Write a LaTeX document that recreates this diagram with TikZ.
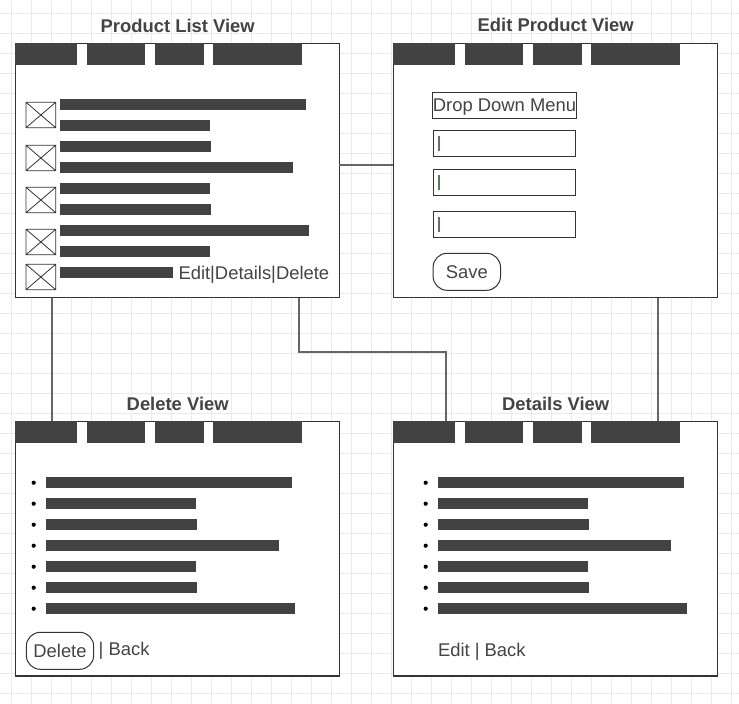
\documentclass[tikz,border=0pt]{standalone}
\usepackage{fontspec}
\setmainfont{Liberation Sans}
\definecolor{ink}{HTML}{444444}
\definecolor{barc}{HTML}{424242}
\definecolor{frame}{HTML}{333333}
\definecolor{connc}{HTML}{666666}
\definecolor{gridc}{HTML}{EBEBEB}
\definecolor{cursorc}{HTML}{5B7A5B}
\newcommand{\uifont}{\fontsize{18.4}{22}\selectfont}
\begin{document}
\begin{tikzpicture}[x=1pt,y=-1pt,
  window/.style={draw=frame, line width=1.2pt, fill=white, minimum width=324pt, minimum height=254.5pt, inner sep=0pt, outer sep=0pt},
  wtitle/.style={font=\uifont\bfseries, text=ink, anchor=base, inner sep=0pt},
  lbl/.style={font=\uifont, text=ink, inner sep=0pt},
  tabc/.style={fill=barc},
  barfill/.style={fill=barc},
  field/.style={draw=frame, line width=1pt, fill=white, minimum width=142.4pt, minimum height=26pt, inner sep=0pt, outer sep=0pt, font=\uifont, text=ink, text height=13pt, text depth=0pt},
  btn/.style={draw=frame, line width=1pt, rounded corners=14pt, minimum width=67.4pt, minimum height=37pt, inner sep=0pt, outer sep=0pt, font=\uifont, text=ink, text height=13pt, text depth=0pt},
  link/.style={draw=connc, line width=2pt},
  imgbox/.style={draw=frame, line width=0.8pt},
  cur/.style={draw=cursorc, line width=2pt}
]
\useasboundingbox[fill=white] (0,0) rectangle (739,704);
% grid
\foreach \i in {0,...,36} \draw[gridc, line width=1pt] ({11.7+20*\i},0) -- ({11.7+20*\i},704);
\foreach \i in {0,...,34} \draw[gridc, line width=1pt] (0,{13.3+20*\i}) -- (739,{13.3+20*\i});

% windows
\node[window] (plist) at (177.3,170.5) {};
\node[window] (edit) at (555.3,170.5) {};
\node[window] (delview) at (177.3,548.7) {};
\node[window] (details) at (555.3,548.7) {};

% titles
\node[wtitle] (plistT) at (177.7,32.3) {Product List View};
\node[wtitle] (editT) at (555.7,31) {Edit Product View};
\node[wtitle] (delT) at (177.7,410) {Delete View};
\node[wtitle] (detT) at (555.7,410.5) {Details View};

% tab bars
\foreach \w in {plist,edit,delview,details}
  \foreach \a/\b in {0/61.7,71.7/129.7,139.7/188.7,197.7/286.7}
    \fill[tabc] ([shift={(\a,0)}]\w.north west) rectangle ([shift={(\b,21.4)}]\w.north west);

% connectors
\coordinate (yE) at (0,165);
\draw[link] (plist.east |- yE) -- (edit.west |- yE);
\draw[link] ([xshift=36.4pt]plist.south west) -- ([xshift=36.4pt]delview.north west);
\draw[link] ([xshift=-40.3pt]plist.south east) -- ++(0,54.3) -| ([xshift=52.7pt]details.north west);
\draw[link] ([xshift=-59.6pt]edit.south east) -- ([xshift=-59.6pt]details.north east);

% product list content
\foreach \t in {102.3,145.3,187.3,229.3,264.3}
  \draw[imgbox] (26,\t) rectangle (55.7,\t+25.4) (26,\t) -- (55.7,\t+25.4) (55.7,\t) -- (26,\t+25.4);
\foreach \e/\t in {306/99,210/120,211/141,292.7/162,210/183,211/204,309/225,210/246,173/267}
  \fill[barfill] (60,\t) rectangle (\e,\t+10.7);
\node[lbl, anchor=base west] (pactions) at (178.3,279.3) {Edit|Details|Delete};

% edit content
\node[field] (ddm) at (504.5,105.3) {Drop Down Menu};
\node[field] (f1) at (504.5,143.3) {};
\node[field] (f2) at (504.5,182.3) {};
\node[field] (f3) at (504.5,224.3) {};
\foreach \f in {f1,f2,f3}
  \draw[cur] ([xshift=6pt]\f.west) ++(0,-7.5) -- ++(0,15);
\node[btn] (save) at (466.8,271.8) {Save};

% delete content
\foreach \e [count=\i from 0] in {292,196,197,279,196,197,295} {
  \fill[barfill] (46,{477.3+21*\i}) rectangle (\e,{488+21*\i});
  \fill[black] (33.7,{482.7+21*\i}) circle (2.1pt);
}
\node[btn] (delbtn) at (60,650.8) {Delete};
\node[lbl, anchor=base west] (delback) at (98.5,655.7) {| Back};

% details content
\foreach \e [count=\i from 0] in {684,588,589,671,588,589,687} {
  \fill[barfill] (438,{477.3+21*\i}) rectangle (\e,{488+21*\i});
  \fill[black] (425.7,{482.7+21*\i}) circle (2.1pt);
}
\node[lbl, anchor=base west] (detactions) at (437.8,656) {Edit | Back};
\end{tikzpicture}
\end{document}
